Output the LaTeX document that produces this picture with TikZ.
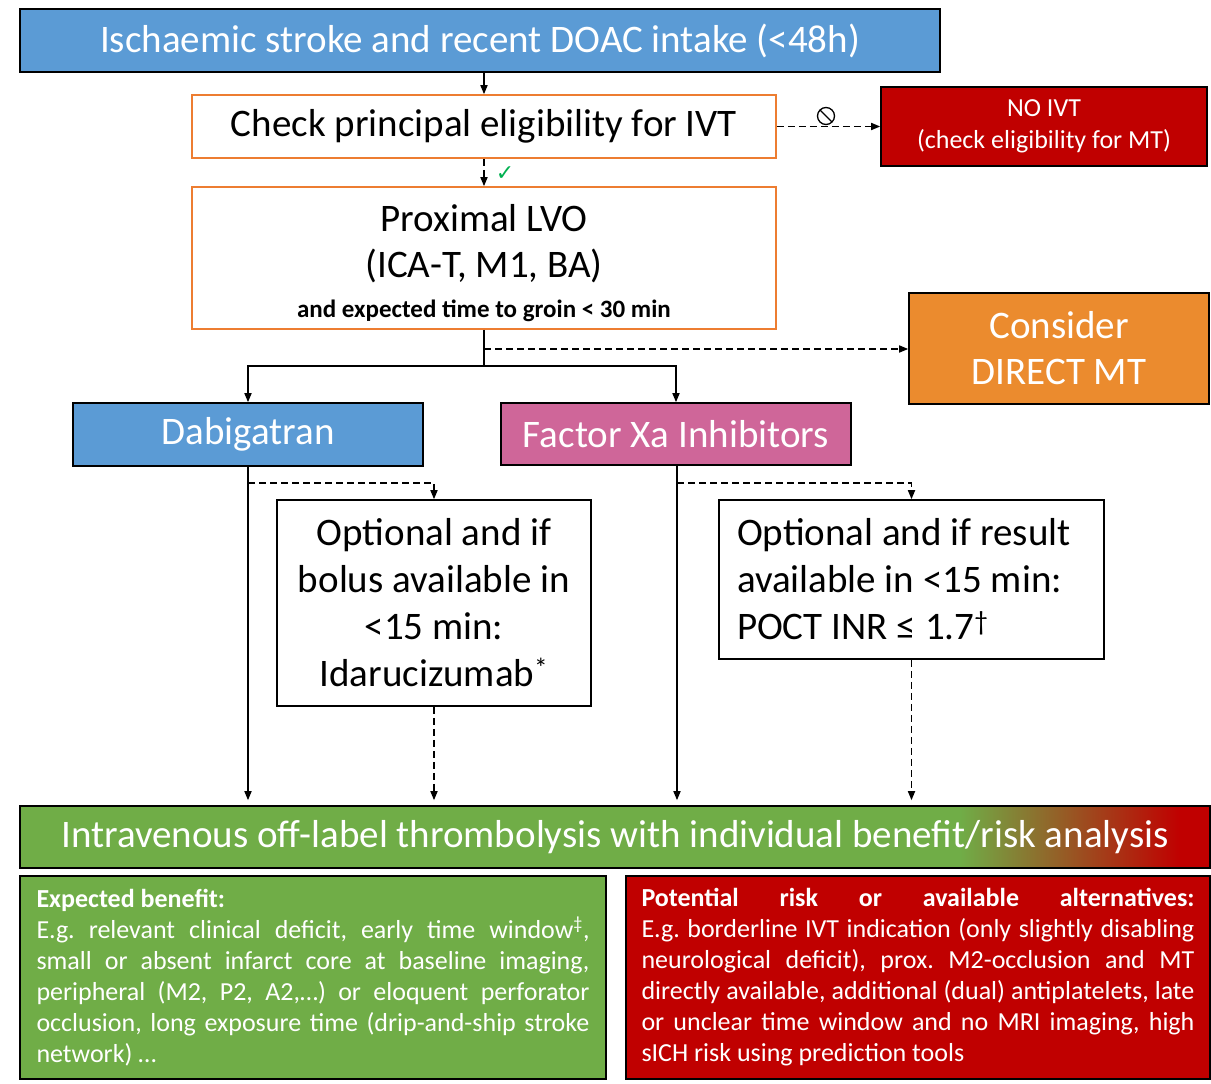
\documentclass[tikz,border=0pt]{standalone}
\usepackage{fontspec}
\setmainfont{Carlito}
\newfontfamily\symfont{DejaVu Sans}
\usetikzlibrary{arrows.meta}
\definecolor{cblue}{HTML}{5B9BD5}
\definecolor{corange}{HTML}{ED7D31}
\definecolor{cred}{HTML}{C00000}
\definecolor{cmt}{HTML}{EB8B2E}
\definecolor{cpink}{HTML}{CF6699}
\definecolor{cgreen}{HTML}{70AD47}
\definecolor{ccheck}{HTML}{00B050}
\newcommand{\fs}[2]{\fontsize{#1}{#2}\selectfont\frenchspacing\hyphenpenalty=10000\exhyphenpenalty=10000}
\begin{document}
\begin{tikzpicture}[x=1pt,y=-1pt,
  box/.style={draw=black, line width=1.6pt, inner sep=0pt, text=white, align=center},
  obox/.style={draw=corange, line width=1.6pt, fill=white, inner sep=0pt, text=black, align=center},
  wbox/.style={draw=black, line width=1.6pt, fill=white, inner sep=0pt, text=black},
  conn/.style={line width=1.6pt, draw=black},
  arr/.style={conn, -{Triangle[length=9pt,width=7pt]}},
  dsh/.style={dash pattern=on 7pt off 4pt}]
\useasboundingbox (0,0) rectangle (1211,1084);

% top
\node[box, fill=cblue, minimum width=920, minimum height=63, font=\fs{39}{44}] (title) at (480,40.5) {Ischaemic stroke and recent DOAC intake (<48h)};
\node[obox, minimum width=584, minimum height=63, font=\fs{39}{44}] (check) at (484,126.5) {Check principal eligibility for IVT};
\node[box, fill=cred, minimum width=326, minimum height=79, font=\fs{26}{32}] (noivt) at (1044,126.5) {NO IVT\\(check eligibility for MT)};
\node[obox, minimum width=584, minimum height=142, font=\fs{39}{46}] (lvo) at (484,258) {\rule{0pt}{38pt}Proximal LVO\\(ICA-T, M1, BA)\\[-6pt]{\fs{25}{30}\bfseries and expected time to groin < 30 min}};
\node[box, fill=cmt, minimum width=300, minimum height=111, font=\fs{39}{46}] (mt) at (1059,348.5) {Consider\\DIRECT MT};
\node[box, fill=cblue, minimum width=350, minimum height=63, font=\fs{39}{44}] (dab) at (248,434.5) {Dabigatran};
\node[box, fill=cpink, minimum width=350, minimum height=62, font=\fs{39}{44}] (fxa) at (676,434) {Factor Xa Inhibitors};
\node[wbox, minimum width=314, minimum height=206, align=center, font=\fs{39}{47}] (opt1) at (434,603) {Optional and if\\bolus available in\\<15 min:\\Idarucizumab\textsuperscript{*}};
\node[wbox, minimum width=385, minimum height=159, text width=349, align=flush left, font=\fs{39}{47}] (opt2) at (911.5,579.5) {Optional and if result\\available in <15 min:\\POCT INR ≤ 1.7\textsuperscript{†}};

% IVT bar with gradient
\fill[cgreen] (20,806) rectangle (1210,868);
\shade[left color=cgreen, right color=cred] (960,806) rectangle (1180,868);
\fill[cred] (1180,806) rectangle (1210,868);
\node[box, minimum width=1190, minimum height=62, font=\fs{39}{44}] (ivt) at (615,837) {Intravenous off-label thrombolysis with individual benefit/risk analysis};

\node[box, fill=cgreen, minimum width=586, minimum height=203, text width=553, align=justify, font=\fs{26}{31}] (ben) at (313,977.5) {\textbf{Expected benefit:}\\E.g. relevant clinical deficit, early time window\textsuperscript{‡},\linebreak small or absent infarct core at baseline imaging,\linebreak peripheral (M2, P2, A2,…) or eloquent perforator\linebreak occlusion, long exposure time (drip-and-ship stroke\linebreak network) …};
\node[box, fill=cred, minimum width=584, minimum height=203, text width=553, align=justify, font=\fs{26}{31}] (risk) at (918,977.5) {\makebox[\linewidth][s]{\bfseries Potential risk or available alternatives:}\\E.g. borderline IVT indication (only slightly disabling neurological deficit), prox. M2-occlusion and MT directly available, additional (dual) antiplatelets, late or unclear time window and no MRI imaging, high sICH risk using prediction tools};

% connectors
\draw[arr] (title.south -| check.north) -- (check.north);
\draw[arr, dsh] (check.south) -- (lvo.north);
\node[text=ccheck, font=\symfont\fontsize{22}{22}\selectfont] (ok) at (505,174) {✓};
\draw[arr, dsh] (check.east) -- (noivt.west);
\draw[line width=1.3pt] (826,116) circle (8.5);
\draw[line width=1.3pt] (820,110) -- (832,122);

\coordinate (jn) at (484,366);
\coordinate (jm) at (484,349);
\draw[conn] (lvo.south) -- (jn);
\draw[arr] (jn) -| (dab.north);
\draw[arr] (jn) -| (fxa.north);
\draw[arr, dsh] (jm) -- (jm -| mt.west);

\coordinate (d1) at (248,483);
\coordinate (f1) at (677,483);
\draw[arr, shorten >=5pt] (dab.south) -- (dab.south |- ivt.north);
\draw[arr, dsh] (d1) -| (opt1.north);
\draw[arr, dsh, shorten >=5pt] (opt1.south) -- (opt1.south |- ivt.north);
\draw[arr, shorten >=5pt] (fxa.south -| f1) -- (f1 |- ivt.north);
\draw[arr, dsh] (f1) -| (opt2.north);
\draw[arr, dsh, shorten >=5pt] (opt2.south) -- (opt2.south |- ivt.north);
\end{tikzpicture}
\end{document}
